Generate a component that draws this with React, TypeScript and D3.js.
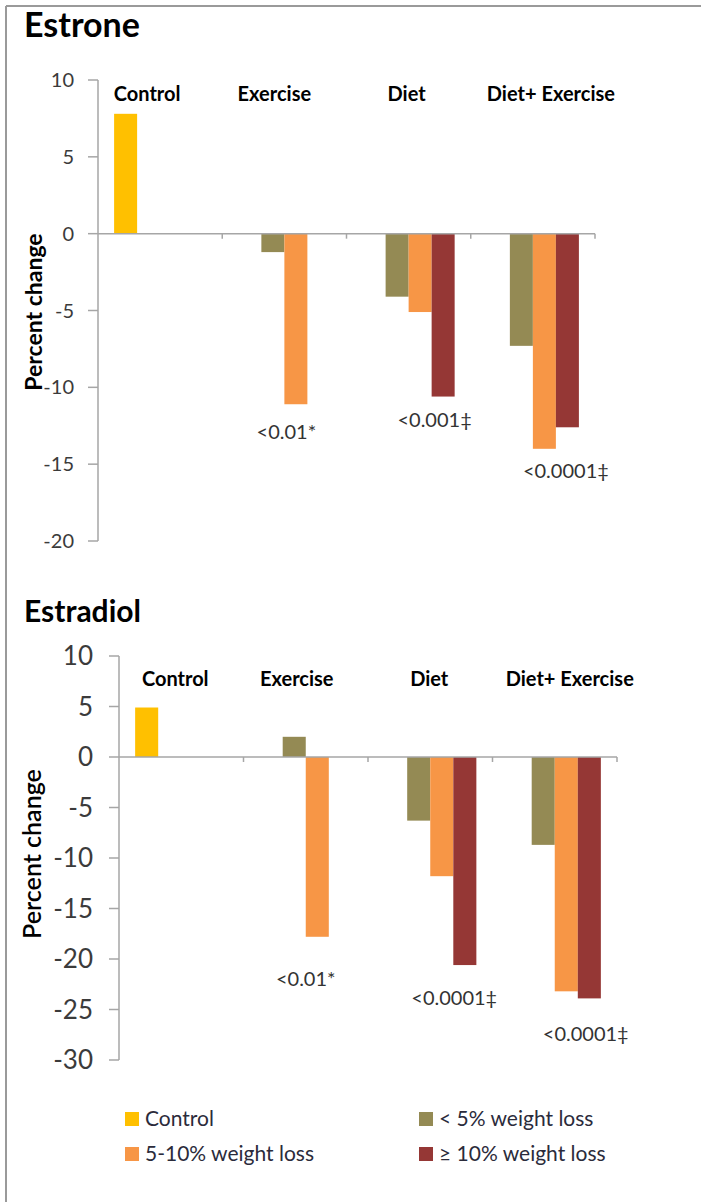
import React from "react";
import * as d3 from "d3";

const categories = ["Control", "Exercise", "Diet", "Diet+ Exercise"];
const seriesNames = ["Control", "< 5% weight loss", "5-10% weight loss", "≥ 10% weight loss"];
const seriesColors = ["#FFC000", "#948A54", "#F79646", "#953735"];

// Estrone percent change
const estroneControl = [7.8, null, null, null];
const estroneLt5 = [null, -1.2, -4.1, -7.3];
const estrone5to10 = [null, -11.1, -5.1, -14.0];
const estroneGe10 = [null, null, -10.6, -12.6];
const estroneP = [null, "<0.01*", "<0.001‡", "<0.0001‡"];
const estroneTicks = [10, 5, 0, -5, -10, -15, -20];

// Estradiol percent change
const estradiolControl = [4.9, null, null, null];
const estradiolLt5 = [null, 2.0, -6.3, -8.7];
const estradiol5to10 = [null, -17.8, -11.8, -23.2];
const estradiolGe10 = [null, null, -20.6, -23.9];
const estradiolP = [null, "<0.01*", "<0.0001‡", "<0.0001‡"];
const estradiolTicks = [10, 5, 0, -5, -10, -15, -20, -25, -30];

const FONT = "Lato, 'Open Sans', sans-serif";

type PanelProps = {
  title: string;
  series: (number | null)[][];
  pvals: (string | null)[];
  ticks: number[];
  layout: {
    x0: number; x1: number; yTop: number; yBot: number;
    titleY: number; titleSize: number; tickSize: number; tickPad: number;
    catLabelY: number; catSize: number; catDx: number[]; pDx: number[]; pDy: number[]; pSize: number;
    yLabelX: number; yLabelY: number; yLabelWeight: number; yLabelSize: number;
  };
};

function Panel({ title, series, pvals, ticks, layout }: PanelProps) {
  const L = layout;
  const y = d3.scaleLinear().domain([d3.max(ticks)!, d3.min(ticks)!]).range([L.yTop, L.yBot]);
  const x = d3.scaleBand<string>().domain(categories).range([L.x0, L.x1]).padding(0);
  const inner = d3.scaleBand<number>().domain(d3.range(series.length)).range([0, x.bandwidth()]).paddingInner(0).paddingOuter(0.7);
  const zeroY = y(0);
  return (
    <g>
      <text x={24} y={L.titleY} fontFamily={FONT} fontWeight={700} fontSize={L.titleSize} fill="#000">{title}</text>
      {/* y axis */}
      <line x1={L.x0} x2={L.x0} y1={L.yTop} y2={L.yBot} stroke="#A6A6A6" strokeWidth={1.5} />
      {ticks.map((t) => (
        <g key={t}>
          <line x1={L.x0 - 10} x2={L.x0} y1={y(t)} y2={y(t)} stroke="#A6A6A6" strokeWidth={1.5} />
          <text x={L.x0 - L.tickPad} y={y(t)} dy="0.35em" textAnchor="end" fontFamily={FONT} fontSize={L.tickSize} fill="#3b3b3b">{t}</text>
        </g>
      ))}
      <text transform={`translate(${L.yLabelX},${L.yLabelY}) rotate(-90)`} textAnchor="middle" fontFamily={FONT} fontWeight={L.yLabelWeight} fontSize={L.yLabelSize} fill="#000">Percent change</text>
      {/* bars */}
      {series.map((vals, si) =>
        vals.map((v, ci) =>
          v == null ? null : (
            <rect key={`${si}-${ci}`} x={x(categories[ci])! + inner(si)!} width={inner.bandwidth()}
              y={Math.min(y(v), zeroY)} height={Math.abs(y(v) - zeroY)} fill={seriesColors[si]} />
          )
        )
      )}
      {/* zero line with category ticks */}
      <line x1={L.x0} x2={L.x1} y1={zeroY} y2={zeroY} stroke="#A6A6A6" strokeWidth={1.5} />
      {categories.map((c) => (
        <line key={c} x1={x(c)! + x.bandwidth()} x2={x(c)! + x.bandwidth()} y1={zeroY} y2={zeroY + 5} stroke="#A6A6A6" strokeWidth={1.5} />
      ))}
      {/* category labels */}
      {categories.map((c, i) => (
        <text key={c} x={x(c)! + x.bandwidth() / 2 + L.catDx[i]} y={L.catLabelY} textAnchor="middle" fontFamily={FONT} fontWeight={700} fontSize={L.catSize} fill="#000">{c}</text>
      ))}
      {/* p-value annotations */}
      {pvals.map((p, i) => {
        if (!p) return null;
        const lows = series.map((s) => s[i]).filter((v) => v != null) as number[];
        const low = d3.min(lows)!;
        return (
          <text key={i} x={x(categories[i])! + x.bandwidth() / 2 + L.pDx[i]} y={y(low) + L.pDy[i]} textAnchor="middle" fontFamily={FONT} fontSize={L.pSize} fill="#333">{p}</text>
        );
      })}
    </g>
  );
}

export default function App() {
  return (
    <svg width={701} height={1202} style={{ position: "absolute", left: 0, top: 0, background: "#fff" }}>
      <rect x={0} y={0} width={701} height={1202} fill="#fff" />
      <line x1={6} x2={701} y1={6} y2={6} stroke="#9A9A9A" strokeWidth={2} />
      <line x1={6} x2={6} y1={6} y2={1202} stroke="#9A9A9A" strokeWidth={2} />
      <Panel
        title="Estrone"
        series={[estroneControl, estroneLt5, estrone5to10, estroneGe10]}
        pvals={estroneP}
        ticks={estroneTicks}
        layout={{
          x0: 98, x1: 595, yTop: 80, yBot: 541, titleY: 37, titleSize: 34, tickSize: 20, tickPad: 24,
          catLabelY: 101, catSize: 20, catDx: [-13, -10, -2, 18], pDx: [0, 2, 26, 33], pDy: [0, 35, 30, 29], pSize: 20,
          yLabelX: 42, yLabelY: 312, yLabelWeight: 700, yLabelSize: 23,
        }}
      />
      <Panel
        title="Estradiol"
        series={[estradiolControl, estradiolLt5, estradiol5to10, estradiolGe10]}
        pvals={estradiolP}
        ticks={estradiolTicks}
        layout={{
          x0: 119, x1: 617, yTop: 656, yBot: 1060, titleY: 622, titleSize: 30, tickSize: 26, tickPad: 26,
          catLabelY: 686, catSize: 20, catDx: [-6, -9, -1, 15], pDx: [0, 0, 24, 31], pDy: [0, 49, 40, 43], pSize: 20,
          yLabelX: 41, yLabelY: 854, yLabelWeight: 600, yLabelSize: 25,
        }}
      />
      {/* legend */}
      {seriesNames.map((name, i) => {
        const col = i % 2;
        const row = Math.floor(i / 2);
        const lx = col === 0 ? 125 : 419;
        const ly = 1119 + row * 35;
        return (
          <g key={name}>
            <rect x={lx} y={ly - 7} width={14} height={14} fill={seriesColors[i]} />
            <text x={lx + 20} y={ly} dy="0.35em" fontFamily={FONT} fontSize={21} fill="#2b2b3b">{name}</text>
          </g>
        );
      })}
    </svg>
  );
}
